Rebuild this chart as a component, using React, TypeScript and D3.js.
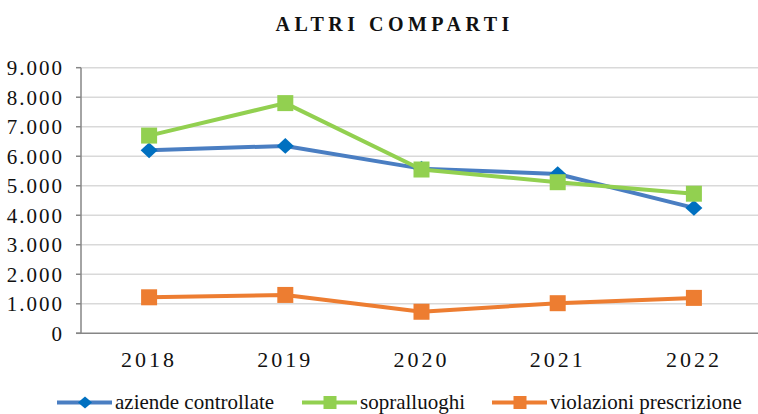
import React from 'react';
import * as d3 from 'd3';

const years = ['2018', '2019', '2020', '2021', '2022'];
const aziendeControllate = [6200, 6350, 5580, 5400, 4250];
const sopralluoghi = [6700, 7800, 5550, 5120, 4730];
const violazioniPrescrizione = [1220, 1300, 730, 1020, 1200];
const yTicks = [0, 1000, 2000, 3000, 4000, 5000, 6000, 7000, 8000, 9000];

const series = [
  { name: 'aziende controllate', values: aziendeControllate, line: '#4A7EC2', marker: '#0070C0', shape: 'diamond' },
  { name: 'sopralluoghi', values: sopralluoghi, line: '#92D050', marker: '#92D050', shape: 'square' },
  { name: 'violazioni prescrizione', values: violazioniPrescrizione, line: '#ED7D31', marker: '#ED7D31', shape: 'square' },
];

const W = 758;
const H = 414;
const left = 81;
const right = 762;
const top = 67.7;
const bottom = 333.3;
const FONT = 'Liberation Serif';
const legendY = 402.5;

const fmt = (v: number) => d3.format(',')(v).replace(/,/g, '.');

function Marker({ x, y, shape, color }: { x: number; y: number; shape: string; color: string }) {
  if (shape === 'diamond') {
    return <path d={`M${x},${y - 7.8}L${x + 8.5},${y}L${x},${y + 7.8}L${x - 8.5},${y}Z`} fill={color} />;
  }
  const s = 16;
  return <rect x={x - s / 2} y={y - s / 2} width={s} height={s} fill={color} />;
}

export default function App() {
  const x = d3.scaleBand<string>().domain(years).range([left, right]);
  const y = d3.scaleLinear().domain([0, 9000]).range([bottom, top]);
  const cx = (d: string) => (x(d) ?? 0) + x.bandwidth() / 2;

  const line = d3
    .line<number>()
    .x((_, i) => cx(years[i]))
    .y((v) => y(v));

  const legendX = [57, 302, 492];

  return (
    <svg width={W} height={H} style={{ position: 'absolute', left: 0, top: 0, background: '#fff' }}>
      <text x={394.7} y={31} textAnchor="middle" fontFamily={FONT} fontSize={20} fontWeight="bold" letterSpacing={4.5} fill="#111">
        ALTRI COMPARTI
      </text>

      {yTicks.map((t) => (
        <g key={t}>
          {t > 0 && <line x1={left} x2={W} y1={y(t)} y2={y(t)} stroke="#D9D9D9" strokeWidth={1.5} />}
          <line x1={left - 5} x2={left} y1={y(t)} y2={y(t)} stroke="#868686" strokeWidth={1.5} />
          <text x={64} y={y(t)} dy="0.35em" textAnchor="end" fontFamily={FONT} fontSize={21} letterSpacing={2} fill="#111">
            {fmt(t)}
          </text>
        </g>
      ))}
      <line x1={left} x2={left} y1={top} y2={bottom} stroke="#868686" strokeWidth={1.5} />
      <line x1={left - 5} x2={W} y1={bottom} y2={bottom} stroke="#868686" strokeWidth={1.5} />

      {years.map((yr) => (
        <text key={yr} x={cx(yr)} y={367} textAnchor="middle" fontFamily={FONT} fontSize={22} letterSpacing={3} fill="#111">
          {yr}
        </text>
      ))}

      {series.map((s) => (
        <g key={s.name}>
          <path d={line(s.values) ?? ''} fill="none" stroke={s.line} strokeWidth={4} strokeLinejoin="round" />
          {s.values.map((v, i) => (
            <Marker key={i} x={cx(years[i])} y={y(v)} shape={s.shape} color={s.marker} />
          ))}
        </g>
      ))}

      {series.map((s, i) => (
        <g key={s.name}>
          <line x1={legendX[i]} x2={legendX[i] + 55} y1={legendY} y2={legendY} stroke={s.line} strokeWidth={4} />
          {s.shape === 'diamond' ? (
            <path
              d={`M${legendX[i] + 28},${legendY - 6}L${legendX[i] + 35},${legendY}L${legendX[i] + 28},${legendY + 6}L${legendX[i] + 21},${legendY}Z`}
              fill={s.marker}
            />
          ) : (
            <rect x={legendX[i] + 21.5} y={legendY - 6.5} width={13} height={13} fill={s.marker} />
          )}
          <text x={legendX[i] + 58} y={legendY + 6.5} fontFamily={FONT} fontSize={21} fill="#111">
            {s.name}
          </text>
        </g>
      ))}
    </svg>
  );
}
